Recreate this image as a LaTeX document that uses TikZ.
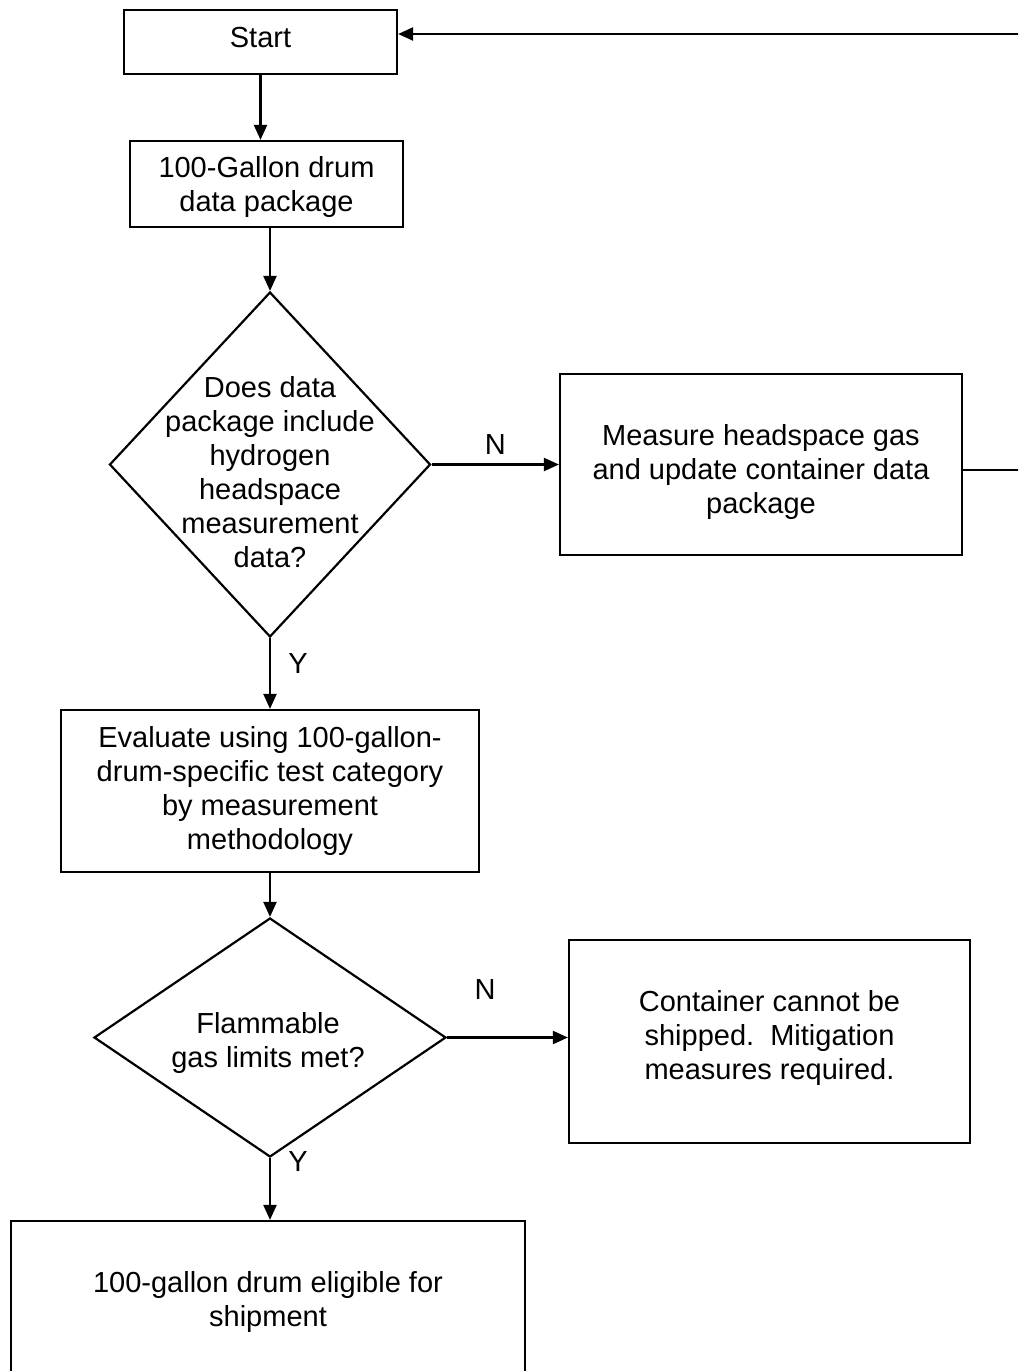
\documentclass[tikz,border=0pt]{standalone}
\usepackage{fontspec}
\setmainfont{Liberation Sans}
\usetikzlibrary{arrows.meta,shapes.geometric}
\begin{document}
\begin{tikzpicture}[x=1pt,y=-1pt,
  every node/.style={font=\fontsize{29}{34}\selectfont},
  box/.style={draw,line width=2.2pt,align=center,inner sep=0pt},
  dia/.style={draw,diamond,line width=2.2pt,inner sep=0pt},
  lbl/.style={align=center,inner sep=0pt},
  con/.style={line width=2.2pt,-{Triangle[length=15pt,width=13pt]}},
  lin/.style={line width=2.2pt},
  yn/.style={inner sep=0pt}]
\clip (0,0) rectangle (1018,1371);
\useasboundingbox (0,0) rectangle (1018,1371);
\fill[white] (0,0) rectangle (1018,1371);

\node[box,minimum width=273pt,minimum height=64pt] (start) at (260.5,42) {};
\node[lbl] (startt) at (260.5,38) {Start};
\node[box,minimum width=273pt,minimum height=86pt] (pkg) at (266.5,184) {};
\node[lbl] (pkgt) at (266.5,187) {100-Gallon drum\\data package};
\node[dia,minimum width=321pt,minimum height=345pt] (d1) at (270,464.5) {};
\node[lbl] (d1t) at (270,472) {Does data\\package include\\hydrogen\\headspace\\measurement\\data?};
\node[box,minimum width=402pt,minimum height=181pt] (meas) at (761,464.5) {};
\node[lbl] (meast) at (761,472) {Measure headspace gas\\and update container data\\package};
\node[box,minimum width=418pt,minimum height=162pt] (eval) at (270,791) {Evaluate using 100-gallon-\\drum-specific test category\\by measurement\\methodology};
\node[dia,minimum width=352pt,minimum height=239pt] (d2) at (270,1037.5) {};
\node[lbl] (d2t) at (268,1043) {Flammable\\gas limits met?};
\node[box,minimum width=401pt,minimum height=203pt] (cont) at (769.5,1041.5) {};
\node[lbl] (contt) at (769.5,1038) {Container cannot be\\shipped.\ \ Mitigation\\measures required.};
\node[box,minimum width=514pt,minimum height=170pt] (elig) at (268,1306) {};
\node[lbl] (eligt) at (268,1302) {100-gallon drum eligible for\\shipment};

\coordinate (e1) at (1020,470);
\coordinate (e2) at (1020,34);

\draw[con] (start.south) -- (start.south |- pkg.north);
\draw[con] (pkg.south -| d1.north) -- (d1.north);
\draw[con] (d1.south) -- (eval.north);
\draw[con] (d1.east) -- (meas.west) node[yn,midway,above=9pt] (n1) {N};
\node[yn] (y1) at (298,664) {Y};
\draw[con] (eval.south) -- (d2.north);
\draw[con] (d2.east) -- (d2.east -| cont.west);
\node[yn] (n2) at (485,990) {N};
\draw[con] (d2.south) -- (d2.south |- elig.north);
\node[yn] (y2) at (298,1162) {Y};
\draw[lin] (meas.east |- e1) -- (e1);
\draw[con] (e2) -- (start.east |- e2);
\end{tikzpicture}
\end{document}
